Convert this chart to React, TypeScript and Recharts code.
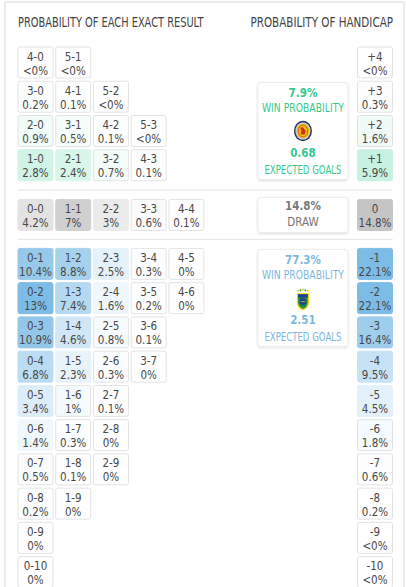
import { ScatterChart, Scatter, XAxis, YAxis, ReferenceLine } from "recharts";

// exact results
const winScores = ["4-0", "5-1", "3-0", "4-1", "5-2", "2-0", "3-1", "4-2", "5-3", "1-0", "2-1", "3-2", "4-3"];
const winProbs = ["<0%", "<0%", "0.2%", "0.1%", "<0%", "0.9%", "0.5%", "0.1%", "<0%", "2.8%", "2.4%", "0.7%", "0.1%"];
const drawScores = ["0-0", "1-1", "2-2", "3-3", "4-4"];
const drawProbs = ["4.2%", "7%", "3%", "0.6%", "0.1%"];
const lossScores = [
    "0-1", "1-2", "2-3", "3-4", "4-5",
    "0-2", "1-3", "2-4", "3-5", "4-6",
    "0-3", "1-4", "2-5", "3-6",
    "0-4", "1-5", "2-6", "3-7",
    "0-5", "1-6", "2-7",
    "0-6", "1-7", "2-8",
    "0-7", "1-8", "2-9",
    "0-8", "1-9",
    "0-9",
    "0-10",
];
const lossProbs = [
    "10.4%", "8.8%", "2.5%", "0.3%", "0%",
    "13%", "7.4%", "1.6%", "0.2%", "0%",
    "10.9%", "4.6%", "0.8%", "0.1%",
    "6.8%", "2.3%", "0.3%", "0%",
    "3.4%", "1%", "0.1%",
    "1.4%", "0.3%", "0%",
    "0.5%", "0.1%", "0%",
    "0.2%", "0%",
    "0%",
    "0%",
];
const handicapLines = ["+4", "+3", "+2", "+1", "0", "-1", "-2", "-3", "-4", "-5", "-6", "-7", "-8", "-9", "-10"];
const handicapProbs = ["<0%", "0.3%", "1.6%", "5.9%", "14.8%", "22.1%", "22.1%", "16.4%", "9.5%", "4.5%", "1.8%", "0.6%", "0.2%", "<0%", "<0%"];
const teams = ["Scotland", "Brazil"];
const winProbability = ["7.9%", "77.3%"];
const expectedGoals = ["0.68", "2.51"];
const drawProbability = "14.8%";

const FONT = "'Liberation Sans Narrow', 'DejaVu Sans Condensed', 'Liberation Sans', sans-serif";
const DRAW_ROW = 4.45;
const LOSS_ROW0 = 5.88;
const HANDICAP_COL = 9;
const BOX_COL = 7.09;

const TONES: Record<string, number[]> = {
    win: [46, 204, 138],
    draw: [168, 168, 168],
    loss: [125, 188, 230],
};
const TEXT_TONE: Record<string, string> = { win: "#35c98c", draw: "#777", loss: "#7db7e0" };

const pct = (s: string) => parseFloat(s.replace("<", ""));
const rowOf = (d: number) => (d > 0 ? 4 - d : d === 0 ? DRAW_ROW : LOSS_ROW0 + (-d - 1));
const tint = (tone: string, t: number) => {
    const c = TONES[tone].map((v) => Math.round(255 - t * (255 - v)));
    return `rgb(${c[0]},${c[1]},${c[2]})`;
};

const resultMax = Math.max(...[...winProbs, ...drawProbs, ...lossProbs].map(pct));
const handicapMax = Math.max(...handicapProbs.map(pct));

function scoreCells(scores: string[], probs: string[], tone: string) {
    return scores.map((s, i) => {
        const [h, a] = s.split("-").map(Number);
        return { x: Math.min(h, a), y: rowOf(h - a), top: s, bottom: probs[i], tone, t: pct(probs[i]) / resultMax };
    });
}

const winCells = scoreCells(winScores, winProbs, "win");
const drawCells = scoreCells(drawScores, drawProbs, "draw");
const lossCells = scoreCells(lossScores, lossProbs, "loss");
const handicapCells = handicapLines.map((l, i) => {
    const d = parseInt(l, 10);
    return {
        x: HANDICAP_COL,
        y: rowOf(d),
        top: l,
        bottom: handicapProbs[i],
        tone: d > 0 ? "win" : d === 0 ? "draw" : "loss",
        t: pct(handicapProbs[i]) / handicapMax,
    };
});
const summaryBoxes = [
    { x: BOX_COL, y: rowOf(2), kind: "win", team: teams[0], prob: winProbability[0], xg: expectedGoals[0] },
    { x: BOX_COL, y: rowOf(0), kind: "draw", team: "", prob: drawProbability, xg: "" },
    { x: BOX_COL, y: rowOf(-2), kind: "loss", team: teams[1], prob: winProbability[1], xg: expectedGoals[1] },
];

function CellShape(props: any) {
    const { cx, cy, payload } = props;
    const fill = tint(payload.tone, payload.t);
    return (
        <g>
            <rect x={cx - 17.5} y={cy - 15.5} width={35} height={31} rx={2} fill={fill}
                stroke={payload.t > 0.1 ? fill : "#e3e3e3"} />
            <text x={cx} y={cy - 2} textAnchor="middle" fontFamily={FONT} fontSize={11.5} fill="#484848">{payload.top}</text>
            <text x={cx} y={cy + 12} textAnchor="middle" fontFamily={FONT} fontSize={11.5} fill="#484848">{payload.bottom}</text>
        </g>
    );
}

function ScotlandCrest({ x, y }: { x: number; y: number }) {
    return (
        <g transform={`translate(${x},${y})`}>
            <ellipse rx={9} ry={10.2} fill="#24325f" />
            <ellipse rx={7.6} ry={8.8} fill="#c8ccd6" />
            <ellipse rx={6.2} ry={7.3} fill="#f2c200" />
            <ellipse rx={4.8} ry={5.9} fill="none" stroke="#d42a2a" strokeWidth={0.7} />
            <path d="M-2.2,3.5 L-1.6,-1 L-2.8,-3.2 L0,-3.8 L1.6,-1.6 L2.8,0 L1.6,3.5 Z" fill="#d42a2a" />
        </g>
    );
}

function BrazilCrest({ x, y }: { x: number; y: number }) {
    const stars = [-5, -2.5, 0, 2.5, 5];
    return (
        <g transform={`translate(${x},${y})`}>
            {stars.map((s, i) => (
                <circle key={i} cx={s} cy={-9.5 + Math.abs(s) * 0.25} r={0.9} fill={i % 2 ? "#1a9a4a" : "#e8c100"} />
            ))}
            <path d="M-6,-6 L6,-6 L6,3 Q6,9 0,11 Q-6,9 -6,3 Z" fill="#f2cf00" />
            <path d="M-4.8,-4.8 L4.8,-4.8 L4.8,2.8 Q4.8,7.8 0,9.6 Q-4.8,7.8 -4.8,2.8 Z" fill="#1f8f45" />
            <rect x={-4.8} y={-4.8} width={9.6} height={3.2} fill="#1e3f94" />
            <circle cx={0} cy={2.5} r={3.3} fill="#1e3f94" />
            <path d="M-2,2.5 L2,2.5" stroke="#f2cf00" strokeWidth={0.8} />
        </g>
    );
}

function BoxShape(props: any) {
    const { cx, cy, payload } = props;
    const color = TEXT_TONE[payload.kind];
    if (payload.kind === "draw") {
        return (
            <g>
                <rect x={cx - 45} y={cy - 17.5} width={90} height={35} rx={3} fill="#fff" stroke="#ececec" filter="url(#boxShadow)" />
                <text x={cx} y={cy - 5} textAnchor="middle" fontFamily={FONT} fontSize={11.5} fontWeight="bold" fill={color}>{payload.prob}</text>
                <text x={cx} y={cy + 11} textAnchor="middle" fontFamily={FONT} fontSize={11.5} fill={color}>DRAW</text>
            </g>
        );
    }
    return (
        <g>
            <rect x={cx - 45} y={cy - 48.5} width={90} height={97} rx={3} fill="#fff" stroke="#ececec" filter="url(#boxShadow)" />
            <text x={cx} y={cy - 34} textAnchor="middle" fontFamily={FONT} fontSize={11.5} fontWeight="bold" fill={color}>{payload.prob}</text>
            <text x={cx} y={cy - 18.7} textAnchor="middle" fontFamily={FONT} fontSize={11.5} fill={color}
                textLength={82} lengthAdjust="spacingAndGlyphs">WIN PROBABILITY</text>
            {payload.kind === "win" ? <ScotlandCrest x={cx} y={cy} /> : <BrazilCrest x={cx} y={cy + 1} />}
            <text x={cx} y={cy + 26} textAnchor="middle" fontFamily={FONT} fontSize={11.5} fontWeight="bold" fill={color}>{payload.xg}</text>
            <text x={cx} y={cy + 42.5} textAnchor="middle" fontFamily={FONT} fontSize={11.5} fill={color}
                textLength={77} lengthAdjust="spacingAndGlyphs">EXPECTED GOALS</text>
        </g>
    );
}

const sepTop = (3 + DRAW_ROW) / 2;
const sepBottom = (DRAW_ROW + LOSS_ROW0) / 2;

export default function App() {
    return (
        <div style={{ position: "relative", width: 406, height: 587, background: "#fff" }}>
            <style>{"body{margin:0;background:#fff}"}</style>
            <svg width={406} height={587} style={{ position: "absolute", left: 0, top: 0 }}>
                <defs>
                    <filter id="boxShadow" x="-20%" y="-20%" width="140%" height="140%">
                        <feDropShadow dx="0" dy="1" stdDeviation="1.2" floodColor="#000" floodOpacity="0.15" />
                    </filter>
                </defs>
                <path d="M5,600 L5,2 L404,2 L404,600" fill="none" stroke="#e6e6e6" strokeWidth={1.5} />
                {/* the original title face is narrower than anything installed, so squeeze it */}
                <text transform="translate(18,26.5) scale(0.754,1)" fontFamily={FONT} fontSize={14.5} fill="#444">
                    PROBABILITY OF EACH EXACT RESULT
                </text>
                <text transform="translate(393,26.5) scale(0.796,1)" textAnchor="end" fontFamily={FONT} fontSize={14.5} fill="#444">
                    PROBABILITY OF HANDICAP
                </text>
            </svg>
            <div style={{ position: "absolute", left: 0, top: 0 }}>
                <ScatterChart width={406} height={587} margin={{ top: 0, right: 0, bottom: 0, left: 0 }}>
                    <XAxis type="number" dataKey="x" domain={[-0.941, 9.822]} allowDataOverflow hide />
                    <YAxis type="number" dataKey="y" domain={[-1.825, 15.314]} allowDataOverflow reversed hide />
                    <ReferenceLine segment={[{ x: -0.47, y: sepTop }, { x: 9.47, y: sepTop }]} stroke="#e8e8e8" strokeWidth={1.2} />
                    <ReferenceLine segment={[{ x: -0.47, y: sepBottom }, { x: 9.47, y: sepBottom }]} stroke="#e8e8e8" strokeWidth={1.2} />
                    <Scatter data={winCells} shape={CellShape} isAnimationActive={false} />
                    <Scatter data={drawCells} shape={CellShape} isAnimationActive={false} />
                    <Scatter data={lossCells} shape={CellShape} isAnimationActive={false} />
                    <Scatter data={handicapCells} shape={CellShape} isAnimationActive={false} />
                    <Scatter data={summaryBoxes} shape={BoxShape} isAnimationActive={false} />
                </ScatterChart>
            </div>
        </div>
    );
}
